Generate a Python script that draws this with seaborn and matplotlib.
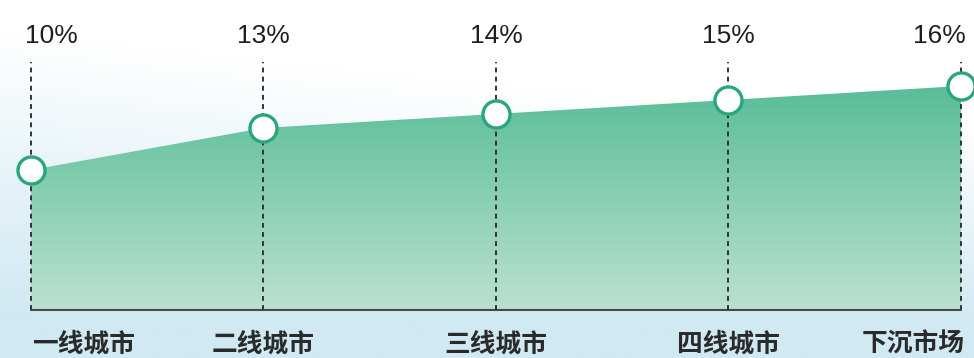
import numpy as np
import pandas as pd
import matplotlib
matplotlib.use('Agg')
import matplotlib.pyplot as plt
from matplotlib.colors import LinearSegmentedColormap
import seaborn as sns

categories = ['一线城市', '二线城市', '三线城市', '四线城市', '下沉市场']
values = [10, 13, 14, 15, 16]
labels = ['10%', '13%', '14%', '15%', '16%']

df = pd.DataFrame({'x': np.arange(len(categories)), 'y': values})

sns.set_style('white')
plt.rcParams['font.family'] = ['Noto Sans CJK SC', 'DejaVu Sans']

fig = plt.figure(figsize=(9.74, 3.58), dpi=100)
ax = fig.add_axes([0, 0, 1, 1])
xmin, xmax = -0.133, 4.056
ymin, ymax = -3.43, 22.14
ax.set_xlim(xmin, xmax)
ax.set_ylim(ymin, ymax)
ax.axis('off')

# background: light blue at the bottom fading to white at the top
gx, gy = np.meshgrid(np.linspace(0, 1, 200), np.linspace(0, 1, 200))
bg = np.clip(1.15 - gy * (1.25 + 0.5 * gx), 0, 1)
bg_cmap = LinearSegmentedColormap.from_list('bg', ['#ffffff', '#d0e9f2'])
ax.imshow(bg, extent=[xmin, xmax, ymin, ymax], cmap=bg_cmap, aspect='auto',
          origin='lower', zorder=0, vmin=0, vmax=1)

# area with vertical gradient
poly = ax.fill_between(df['x'], df['y'], 0, color='none', zorder=1)
grad = np.linspace(0, 1, 256).reshape(-1, 1)
area_cmap = LinearSegmentedColormap.from_list('area', ['#55bc96', '#bbe1cf'])
img = ax.imshow(grad, extent=[0, 4, 0, max(values) + 0.5], cmap=area_cmap,
                aspect='auto', origin='upper', zorder=1)
img.set_clip_path(poly.get_paths()[0], transform=ax.transData)

# baseline
ax.plot([0, 4], [0, 0], color='#4a4a4a', lw=1.5, zorder=2)

# dashed guides
for i in range(len(categories)):
    ax.plot([i, i], [0, 17.7], color='#333333', lw=1.4,
            linestyle=(0, (2.5, 2.2)), zorder=2)

sns.scatterplot(data=df, x='x', y='y', ax=ax, s=380, color='white',
                edgecolor='#2aa67e', linewidth=2.4, zorder=3, legend=False)
ax.set_xlabel('')
ax.set_ylabel('')

n = len(categories)
for i, (lab, cat) in enumerate(zip(labels, categories)):
    if i == 0:
        ha, dx, dxc = 'left', -0.027, 0.004
    elif i == n - 1:
        ha, dx, dxc = 'right', 0.022, 0.017
    else:
        ha, dx, dxc = 'center', 0, 0
    ax.text(i + dx, 19.6, lab, ha=ha, va='center', fontsize=19,
            color='#1e1e1e', family=['Liberation Sans'])
    ax.text(i + dxc, -2.45, cat, ha=ha, va='center', fontsize=18.5,
            fontweight='bold', color='#2a2a2a')

fig.savefig('out.png', dpi=100)
